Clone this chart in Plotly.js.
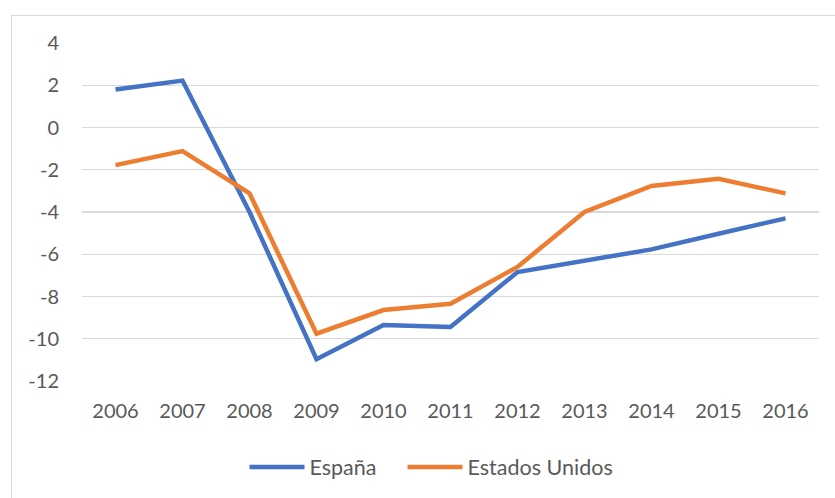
<!DOCTYPE html>
<html>
<head>
<meta charset="utf-8">
<script src="https://cdn.plot.ly/plotly-3.0.1.min.js"></script>
<style>
  html, body { margin: 0; padding: 0; background: #ffffff; }
  #wrap { position: absolute; left: 11px; top: 15px; width: 824px; height: 483px;
          border-top: 1.5px solid #D9D9D9; border-left: 1.5px solid #D9D9D9; box-sizing: border-box; }
  #chart { position: absolute; left: 11px; top: 15px; width: 824px; height: 483px; }
</style>
</head>
<body>
<div id="wrap"></div>
<div id="chart"></div>
<script>
const years = ["2006","2007","2008","2009","2010","2011","2012","2013","2014","2015","2016"];
const espana = [1.80, 2.22, -4.0, -10.97, -9.35, -9.44, -6.84, -6.29, -5.77, -5.03, -4.30];
const estadosUnidos = [-1.78, -1.12, -3.12, -9.76, -8.64, -8.34, -6.60, -4.00, -2.77, -2.43, -3.12];
const yTicks = [4, 2, 0, -2, -4, -6, -8, -10, -12];

const font = { family: "Lato, 'Open Sans', sans-serif", size: 20, color: "#595959" };
const legendFont = { family: "Lato, 'Open Sans', sans-serif", size: 21.5, color: "#595959" };

const traces = [
  { x: years, y: espana, type: "scatter", mode: "lines", name: "España", legend: "legend",
    line: { color: "#4472C4", width: 4.5, shape: "linear" } },
  { x: years, y: estadosUnidos, type: "scatter", mode: "lines", name: "Estados Unidos", legend: "legend2",
    line: { color: "#ED7D31", width: 4.5, shape: "linear" } }
];

const legendCommon = {
  orientation: "h",
  xanchor: "left",
  y: -0.251, yanchor: "middle",
  font: legendFont,
  itemwidth: 55,
  bgcolor: "rgba(0,0,0,0)"
};

const layout = {
  width: 824, height: 483,
  margin: { l: 71, r: 16, t: 28, b: 116 },
  paper_bgcolor: "rgba(0,0,0,0)",
  plot_bgcolor: "rgba(0,0,0,0)",
  font: font,
  showlegend: true,
  xaxis: {
    type: "category",
    range: [-0.5, 10.5],
    showgrid: false, showline: false, zeroline: false,
    ticks: "", ticklabelstandoff: 16,
    tickfont: font, fixedrange: true
  },
  yaxis: {
    range: [-12, 4],
    tickvals: yTicks,
    ticktext: yTicks.map(v => String(v)),
    showgrid: true, gridcolor: "#D9D9D9", gridwidth: 1.3,
    zeroline: false, showline: false,
    ticks: "", ticklabelstandoff: 22,
    tickfont: font, fixedrange: true
  },
  legend: Object.assign({}, legendCommon, { x: 0.2205 }),
  legend2: Object.assign({}, legendCommon, { x: 0.4349 })
};

Plotly.newPlot("chart", traces, layout, { displayModeBar: false, staticPlot: true });
</script>
</body>
</html>
